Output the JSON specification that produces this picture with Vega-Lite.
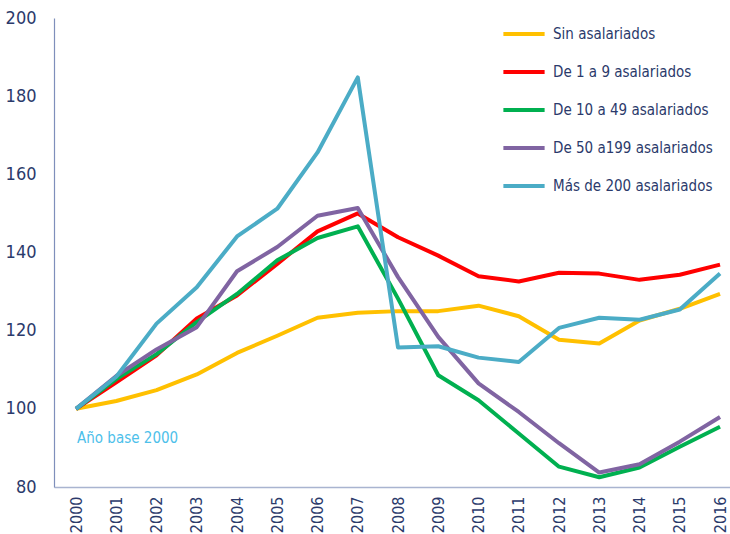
{
  "$schema": "https://vega.github.io/schema/vega-lite/v6.json",
  "autosize": {"type": "none"},
  "width": 676,
  "height": 469,
  "padding": {"left": 54, "top": 18, "right": 0, "bottom": 47},
  "background": "white",
  "config": {
    "view": {"stroke": null},
    "font": "DejaVu Sans Condensed"
  },
  "datasets": {
    "note": [{"label": "Año base 2000", "year": 2000, "v": 92.6}]
  },
  "data": {
    "values": [
      {"year": 2000, "serie": "Sin asalariados", "v": 100},
      {"year": 2001, "serie": "Sin asalariados", "v": 102.0},
      {"year": 2002, "serie": "Sin asalariados", "v": 104.8},
      {"year": 2003, "serie": "Sin asalariados", "v": 108.8},
      {"year": 2004, "serie": "Sin asalariados", "v": 114.3},
      {"year": 2005, "serie": "Sin asalariados", "v": 118.7},
      {"year": 2006, "serie": "Sin asalariados", "v": 123.3},
      {"year": 2007, "serie": "Sin asalariados", "v": 124.6},
      {"year": 2008, "serie": "Sin asalariados", "v": 125.0},
      {"year": 2009, "serie": "Sin asalariados", "v": 125.0},
      {"year": 2010, "serie": "Sin asalariados", "v": 126.4},
      {"year": 2011, "serie": "Sin asalariados", "v": 123.7},
      {"year": 2012, "serie": "Sin asalariados", "v": 117.7},
      {"year": 2013, "serie": "Sin asalariados", "v": 116.7},
      {"year": 2014, "serie": "Sin asalariados", "v": 122.6},
      {"year": 2015, "serie": "Sin asalariados", "v": 125.6},
      {"year": 2016, "serie": "Sin asalariados", "v": 129.4},

      {"year": 2000, "serie": "De 1 a 9 asalariados", "v": 100},
      {"year": 2001, "serie": "De 1 a 9 asalariados", "v": 106.8},
      {"year": 2002, "serie": "De 1 a 9 asalariados", "v": 113.7},
      {"year": 2003, "serie": "De 1 a 9 asalariados", "v": 123.1},
      {"year": 2004, "serie": "De 1 a 9 asalariados", "v": 129.0},
      {"year": 2005, "serie": "De 1 a 9 asalariados", "v": 137.1},
      {"year": 2006, "serie": "De 1 a 9 asalariados", "v": 145.4},
      {"year": 2007, "serie": "De 1 a 9 asalariados", "v": 150.0},
      {"year": 2008, "serie": "De 1 a 9 asalariados", "v": 143.9},
      {"year": 2009, "serie": "De 1 a 9 asalariados", "v": 139.2},
      {"year": 2010, "serie": "De 1 a 9 asalariados", "v": 133.9},
      {"year": 2011, "serie": "De 1 a 9 asalariados", "v": 132.6},
      {"year": 2012, "serie": "De 1 a 9 asalariados", "v": 134.8},
      {"year": 2013, "serie": "De 1 a 9 asalariados", "v": 134.6},
      {"year": 2014, "serie": "De 1 a 9 asalariados", "v": 133.0},
      {"year": 2015, "serie": "De 1 a 9 asalariados", "v": 134.3},
      {"year": 2016, "serie": "De 1 a 9 asalariados", "v": 136.9},

      {"year": 2000, "serie": "De 10 a 49 asalariados", "v": 100},
      {"year": 2001, "serie": "De 10 a 49 asalariados", "v": 107.6},
      {"year": 2002, "serie": "De 10 a 49 asalariados", "v": 114.0},
      {"year": 2003, "serie": "De 10 a 49 asalariados", "v": 122.2},
      {"year": 2004, "serie": "De 10 a 49 asalariados", "v": 129.4},
      {"year": 2005, "serie": "De 10 a 49 asalariados", "v": 138.0},
      {"year": 2006, "serie": "De 10 a 49 asalariados", "v": 143.7},
      {"year": 2007, "serie": "De 10 a 49 asalariados", "v": 146.7},
      {"year": 2008, "serie": "De 10 a 49 asalariados", "v": 128.2},
      {"year": 2009, "serie": "De 10 a 49 asalariados", "v": 108.6},
      {"year": 2010, "serie": "De 10 a 49 asalariados", "v": 102.2},
      {"year": 2011, "serie": "De 10 a 49 asalariados", "v": 93.7},
      {"year": 2012, "serie": "De 10 a 49 asalariados", "v": 85.2},
      {"year": 2013, "serie": "De 10 a 49 asalariados", "v": 82.5},
      {"year": 2014, "serie": "De 10 a 49 asalariados", "v": 85.0},
      {"year": 2015, "serie": "De 10 a 49 asalariados", "v": 90.3},
      {"year": 2016, "serie": "De 10 a 49 asalariados", "v": 95.4},

      {"year": 2000, "serie": "De 50 a199 asalariados", "v": 100},
      {"year": 2001, "serie": "De 50 a199 asalariados", "v": 108.4},
      {"year": 2002, "serie": "De 50 a199 asalariados", "v": 115.2},
      {"year": 2003, "serie": "De 50 a199 asalariados", "v": 120.9},
      {"year": 2004, "serie": "De 50 a199 asalariados", "v": 135.2},
      {"year": 2005, "serie": "De 50 a199 asalariados", "v": 141.4},
      {"year": 2006, "serie": "De 50 a199 asalariados", "v": 149.4},
      {"year": 2007, "serie": "De 50 a199 asalariados", "v": 151.4},
      {"year": 2008, "serie": "De 50 a199 asalariados", "v": 133.7},
      {"year": 2009, "serie": "De 50 a199 asalariados", "v": 118.4},
      {"year": 2010, "serie": "De 50 a199 asalariados", "v": 106.5},
      {"year": 2011, "serie": "De 50 a199 asalariados", "v": 99.2},
      {"year": 2012, "serie": "De 50 a199 asalariados", "v": 91.2},
      {"year": 2013, "serie": "De 50 a199 asalariados", "v": 83.7},
      {"year": 2014, "serie": "De 50 a199 asalariados", "v": 85.8},
      {"year": 2015, "serie": "De 50 a199 asalariados", "v": 91.6},
      {"year": 2016, "serie": "De 50 a199 asalariados", "v": 97.9},

      {"year": 2000, "serie": "Más de 200 asalariados", "v": 100},
      {"year": 2001, "serie": "Más de 200 asalariados", "v": 108.2},
      {"year": 2002, "serie": "Más de 200 asalariados", "v": 121.8},
      {"year": 2003, "serie": "Más de 200 asalariados", "v": 131.1},
      {"year": 2004, "serie": "Más de 200 asalariados", "v": 144.1},
      {"year": 2005, "serie": "Más de 200 asalariados", "v": 151.2},
      {"year": 2006, "serie": "Más de 200 asalariados", "v": 165.6},
      {"year": 2007, "serie": "Más de 200 asalariados", "v": 184.8},
      {"year": 2008, "serie": "Más de 200 asalariados", "v": 115.7},
      {"year": 2009, "serie": "Más de 200 asalariados", "v": 116.0},
      {"year": 2010, "serie": "Más de 200 asalariados", "v": 113.1},
      {"year": 2011, "serie": "Más de 200 asalariados", "v": 112.0},
      {"year": 2012, "serie": "Más de 200 asalariados", "v": 120.7},
      {"year": 2013, "serie": "Más de 200 asalariados", "v": 123.3},
      {"year": 2014, "serie": "Más de 200 asalariados", "v": 122.8},
      {"year": 2015, "serie": "Más de 200 asalariados", "v": 125.4},
      {"year": 2016, "serie": "Más de 200 asalariados", "v": 134.6}
    ]
  },
  "layer": [
    {
      "mark": {"type": "line", "strokeWidth": 4, "strokeJoin": "round", "clip": true},
      "encoding": {
        "x": {
          "field": "year", "type": "quantitative",
          "scale": {"domain": [1999.453, 2016.248], "nice": false, "zero": false},
          "axis": {
            "title": null,
            "values": [2000, 2001, 2002, 2003, 2004, 2005, 2006, 2007, 2008, 2009, 2010, 2011, 2012, 2013, 2014, 2015, 2016],
            "format": "d",
            "labelAngle": -90,
            "labelFontSize": 16,
            "labelColor": "#2B3A6B",
            "labelPadding": 9,
            "ticks": false,
            "grid": false,
            "domainColor": "#A9B4D0",
            "domainWidth": 1.5,
            "labelFlush": false,
            "labelOverlap": false
          }
        },
        "y": {
          "field": "v", "type": "quantitative",
          "scale": {"domain": [80, 200], "nice": false, "zero": false},
          "axis": {
            "title": null,
            "values": [80, 100, 120, 140, 160, 180, 200],
            "labelFontSize": 18,
            "labelColor": "#2B3A6B",
            "labelPadding": 18,
            "ticks": false,
            "grid": false,
            "domainColor": "#7F8FBB",
            "domainWidth": 1.2
          }
        },
        "color": {
          "field": "serie", "type": "nominal",
          "scale": {
            "domain": ["Sin asalariados", "De 1 a 9 asalariados", "De 10 a 49 asalariados", "De 50 a199 asalariados", "Más de 200 asalariados"],
            "range": ["#FFC000", "#FF0000", "#00B050", "#8064A2", "#4BACC6"]
          },
          "legend": {
            "title": null,
            "orient": "none",
            "legendX": 447,
            "legendY": -7,
            "symbolType": "stroke",
            "symbolSize": 1700,
            "symbolStrokeWidth": 4,
            "labelFontSize": 15,
            "labelLimit": 0,
            "labelColor": "#2B3A6B",
            "labelOffset": 6,
            "rowPadding": 7
          }
        }
      }
    },
    {
      "data": {"name": "note"},
      "mark": {"type": "text", "align": "left", "baseline": "middle", "fontSize": 15, "color": "#4DC0EA", "dx": 1},
      "encoding": {
        "x": {"field": "year", "type": "quantitative"},
        "y": {"field": "v", "type": "quantitative"},
        "text": {"field": "label"}
      }
    }
  ]
}
